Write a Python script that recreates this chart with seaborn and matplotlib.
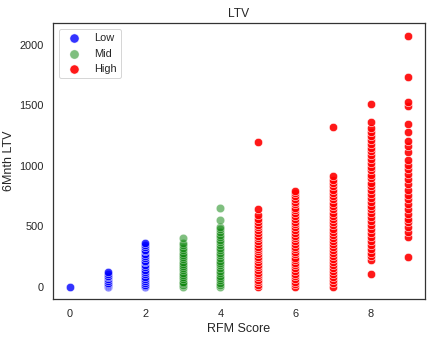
import matplotlib
matplotlib.use("Agg")
import matplotlib.pyplot as plt
import seaborn as sns
import pandas as pd

# 6-month LTV per customer, grouped by overall RFM score
ltv_score_0 = [0]
ltv_score_1 = [0, 5, 12, 20, 30, 45, 60, 75, 90, 105, 123]
ltv_score_2 = [0, 8, 15, 30, 45, 60, 80, 100, 120, 140, 160, 180, 200, 215,
               235, 255, 270, 290, 305, 325, 340, 362]
ltv_score_3 = [0, 10, 25, 40, 60, 80, 95, 115, 135, 150, 170, 190, 205, 225,
               245, 260, 280, 300, 320, 340, 360, 398]
ltv_score_4 = [0, 10, 30, 50, 70, 90, 110, 130, 150, 175, 195, 215, 240, 260,
               280, 300, 320, 345, 365, 385, 410, 430, 450, 475, 495, 554, 652]
ltv_score_5 = [0, 15, 35, 55, 75, 95, 115, 140, 160, 180, 200, 225, 245, 265,
               290, 310, 330, 355, 375, 400, 420, 445, 470, 490, 510, 535, 560,
               590, 644, 1198]
ltv_score_6 = [0, 20, 40, 65, 85, 105, 130, 150, 175, 195, 220, 240, 265, 285,
               310, 330, 355, 375, 400, 420, 445, 470, 490, 515, 535, 560, 585,
               605, 630, 650, 680, 700, 725, 750, 770, 787]
ltv_score_7 = [0, 25, 50, 75, 100, 125, 150, 175, 200, 225, 250, 275, 300, 330,
               355, 380, 405, 430, 455, 480, 505, 530, 560, 585, 610, 640, 665,
               695, 720, 750, 775, 800, 830, 860, 885, 916, 1321]
ltv_score_8 = [102, 219, 250, 280, 310, 345, 380, 410, 445, 475, 510, 540, 575,
               605, 640, 670, 700, 735, 765, 800, 830, 860, 895, 925, 960, 990,
               1020, 1055, 1085, 1120, 1150, 1180, 1215, 1245, 1280, 1310, 1362,
               1507]
ltv_score_9 = [247, 411, 450, 490, 530, 560, 600, 640, 680, 720, 760, 800, 850,
               890, 930, 970, 1006, 1050, 1115, 1160, 1203, 1280, 1348, 1494,
               1527, 1732, 2075]

score_values = [ltv_score_0, ltv_score_1, ltv_score_2, ltv_score_3, ltv_score_4,
                ltv_score_5, ltv_score_6, ltv_score_7, ltv_score_8, ltv_score_9]
segments = ["Low", "Low", "Low", "Mid", "Mid", "High", "High", "High", "High", "High"]

segment_order = ["Low", "Mid", "High"]
segment_colors = {"Low": "blue", "Mid": "green", "High": "red"}
segment_alpha = {"Low": 0.8, "Mid": 0.5, "High": 0.9}

rows = []
for score, (vals, seg) in enumerate(zip(score_values, segments)):
    for v in vals:
        rows.append({"RFM Score": score, "6Mnth LTV": v, "Segment": seg})
df = pd.DataFrame(rows)

sns.set_theme(style="white")
plt.rcParams["font.family"] = ["Liberation Sans", "DejaVu Sans"]

fig = plt.figure(figsize=(428 / 72, 341 / 72), dpi=72)
ax = fig.add_axes([0.124, 0.123, 0.869, 0.809])

for seg in segment_order:
    sns.scatterplot(data=df[df["Segment"] == seg], x="RFM Score", y="6Mnth LTV",
                    color=segment_colors[seg], alpha=segment_alpha[seg],
                    s=70, edgecolor="white", linewidth=0.6, label=seg, ax=ax)

ax.set_title("LTV", fontsize=12)
ax.set_xlabel("RFM Score", fontsize=12.5)
ax.set_ylabel("6Mnth LTV", fontsize=12.5)
ax.tick_params(labelsize=11)
ax.set_xticks([0, 2, 4, 6, 8])
ax.set_yticks([0, 500, 1000, 1500, 2000])
for sp in ax.spines.values():
    sp.set_color("#333333")
ax.legend(loc="upper left", fontsize=11, markerscale=1.1)

fig.savefig("out.png", dpi=72)
